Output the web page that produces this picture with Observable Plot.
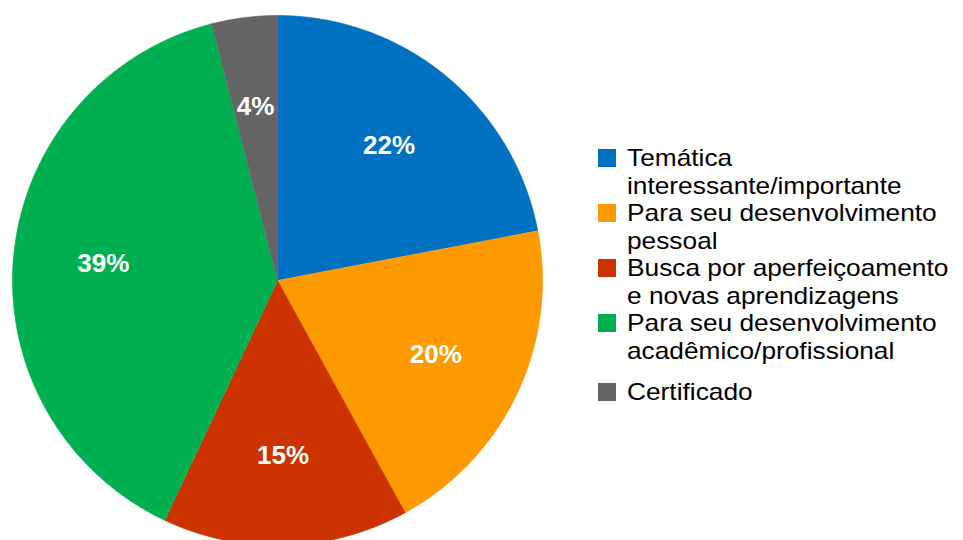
<!DOCTYPE html>
<html><head><meta charset="utf-8">
<script src="https://cdn.jsdelivr.net/npm/d3@7"></script>
<script src="https://cdn.jsdelivr.net/npm/@observablehq/plot@0.6"></script>
<style>
html,body{margin:0;padding:0;background:#fff;overflow:hidden}
#wrap{position:relative;width:963px;height:540px;font-family:"Liberation Sans",Arial,sans-serif}
#chart{position:absolute;left:0;top:0}
#legend{position:absolute;left:598px;top:144.25px;width:365px}
.item{height:55px;display:flex;flex-direction:column;justify-content:center}
.row{position:relative;padding-left:29px}
.txt{width:300px;font-size:24px;line-height:27.5px;color:#000;transform:scaleX(1.095);transform-origin:0 0}
.sw{position:absolute;left:0;top:4.75px;width:18px;height:18px}
</style></head><body><div id="wrap"><div id="chart"></div><div id="legend"></div></div>
<script>
const categories = [
  "Temática interessante/importante",
  "Para seu desenvolvimento pessoal",
  "Busca por aperfeiçoamento e novas aprendizagens",
  "Para seu desenvolvimento acadêmico/profissional",
  "Certificado"
];
const values = [22, 20, 15, 39, 4];
const labels = ["22%", "20%", "15%", "39%", "4%"];
const colors = ["#0070C0", "#FF9900", "#CC3300", "#00B050", "#646464"];

const data = categories.map((name, i) => ({name, value: values[i], label: labels[i]}));
const arcs = d3.pie().sort(null).value(d => d.value)(data);

const pts = [];
const step = Math.PI / 360;
for (const a of arcs) {
  pts.push({name: a.data.name, x: 0, y: 0});
  for (let t = a.startAngle; t < a.endAngle; t += step) {
    pts.push({name: a.data.name, x: Math.sin(t), y: Math.cos(t)});
  }
  pts.push({name: a.data.name, x: Math.sin(a.endAngle), y: Math.cos(a.endAngle)});
}
const labelR = 0.66;
const labs = arcs.map(a => {
  const m = (a.startAngle + a.endAngle) / 2;
  return {label: a.data.label, x: labelR * Math.sin(m), y: labelR * Math.cos(m)};
});

const chart = Plot.plot({
  width: 963, height: 540,
  marginLeft: 12, marginRight: 421, marginTop: 15, marginBottom: 0,
  x: {domain: [-1, 1], axis: null},
  y: {domain: [1 - 525 / 265, 1], axis: null},
  color: {domain: categories, range: colors},
  style: {fontFamily: '"Liberation Sans", Arial, sans-serif', background: "white"},
  marks: [
    Plot.line(pts, {x: "x", y: "y", z: "name", fill: "name", stroke: "name", strokeWidth: 0.6, curve: "linear"}),
    Plot.text(labs, {x: "x", y: "y", text: "label", fill: "white", fontSize: 26, fontWeight: "bold"})
  ]
});
document.getElementById("chart").appendChild(chart);

const legend = document.getElementById("legend");
categories.forEach((c, i) => {
  const item = document.createElement("div");
  item.className = "item";
  const row = document.createElement("div");
  row.className = "row";
  const sw = document.createElement("span");
  sw.className = "sw";
  sw.style.background = colors[i];
  const txt = document.createElement("div");
  txt.className = "txt";
  txt.textContent = c;
  row.appendChild(sw);
  row.appendChild(txt);
  item.appendChild(row);
  legend.appendChild(item);
});
</script>
</body></html>
